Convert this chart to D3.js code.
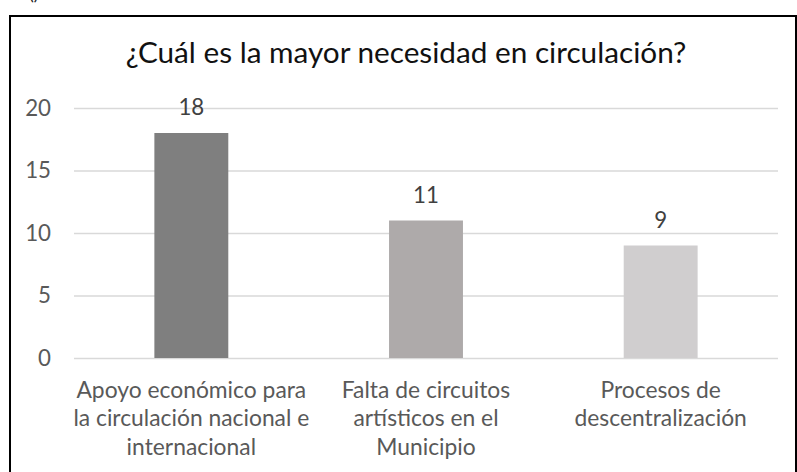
<!DOCTYPE html>
<html>
<head>
<meta charset="utf-8">
<script src="https://cdn.jsdelivr.net/npm/d3@7"></script>
<style>
  html, body { margin: 0; padding: 0; background: #fff; }
  svg { display: block; }
  text { font-family: Lato, "Open Sans", sans-serif; }
</style>
</head>
<body>
<script>
// chart data
var categories = [
  'Apoyo económico para la circulación nacional e internacional',
  'Falta de circuitos artísticos en el Municipio',
  'Procesos de descentralización'
];
var labelLines = [
  ['Apoyo económico para', 'la circulación nacional e', 'internacional'],
  ['Falta de circuitos', 'artísticos en el', 'Municipio'],
  ['Procesos de', 'descentralización']
];
var values = [18, 11, 9];
var barColors = ['#7f7f7f', '#aeaaaa', '#d0cecf'];
var yTicks = [0, 5, 10, 15, 20];
var title = '¿Cuál es la mayor necesidad en circulación?';

var width = 797, height = 472;
var plot = { left: 74, right: 778, top: 108, bottom: 358 };
var textColor = '#595959';

var svg = d3.select('body').append('svg')
  .attr('width', width)
  .attr('height', height);

// outer frame (bottom runs off the picture)
svg.append('rect')
  .attr('x', 10)
  .attr('y', 16)
  .attr('width', 786)
  .attr('height', 480)
  .attr('fill', 'none')
  .attr('stroke', '#000')
  .attr('stroke-width', 2);

// leftover glyphs cut off at the top edge
svg.append('text')
  .attr('x', 29)
  .attr('y', 0)
  .attr('font-size', 18)
  .attr('fill', '#222')
  .text('()');

// title, sized so its width matches the original
var domTitle = svg.append('text')
  .attr('x', 406)
  .attr('y', 63)
  .attr('text-anchor', 'middle')
  .attr('font-size', 28)
  .attr('fill', '#111')
  .text(title);
var fit = 561 / domTitle.node().getComputedTextLength();
domTitle.attr('font-size', 28 * fit);

var x = d3.scaleBand()
  .domain(categories)
  .range([plot.left, plot.right])
  .paddingInner(0.685)
  .paddingOuter(0.3425);

var y = d3.scaleLinear()
  .domain([0, 20])
  .range([plot.bottom, plot.top]);

// gridlines and value axis labels
var yAxis = d3.axisLeft(y)
  .tickValues(yTicks)
  .tickSize(-(plot.right - plot.left))
  .tickPadding(23)
  .tickFormat(d3.format('d'));

var domY = svg.append('g')
  .attr('transform', 'translate(' + plot.left + ',0)')
  .call(yAxis);
domY.select('.domain').remove();
domY.selectAll('.tick line')
  .attr('stroke', '#d9d9d9')
  .attr('stroke-width', 1.5);
domY.selectAll('.tick text')
  .attr('fill', textColor)
  .attr('font-size', 21 * fit)
  .attr('font-family', 'Lato, "Open Sans", sans-serif');

// bars
svg.append('g').selectAll('rect')
  .data(values)
  .join('rect')
  .attr('x', function(d, i) { return x(categories[i]); })
  .attr('y', function(d) { return y(d); })
  .attr('width', x.bandwidth())
  .attr('height', function(d) { return y(0) - y(d); })
  .attr('fill', function(d, i) { return barColors[i]; });

// value labels
svg.append('g').selectAll('text')
  .data(values)
  .join('text')
  .attr('x', function(d, i) { return x(categories[i]) + x.bandwidth() / 2; })
  .attr('y', function(d) { return y(d) - 18; })
  .attr('text-anchor', 'middle')
  .attr('font-size', 21 * fit)
  .attr('fill', '#404040')
  .text(function(d) { return d; });

// category labels, wrapped as in the original
var domCat = svg.append('g').selectAll('text')
  .data(labelLines)
  .join('text')
  .attr('text-anchor', 'middle')
  .attr('font-size', 21.5 * fit)
  .attr('fill', textColor);
domCat.each(function(lines, i) {
  var cx = x(categories[i]) + x.bandwidth() / 2;
  d3.select(this).selectAll('tspan')
    .data(lines)
    .join('tspan')
    .attr('x', cx)
    .attr('y', function(d, j) { return 398 + j * 28.3; })
    .text(function(d) { return d; });
});
</script>
</body>
</html>
